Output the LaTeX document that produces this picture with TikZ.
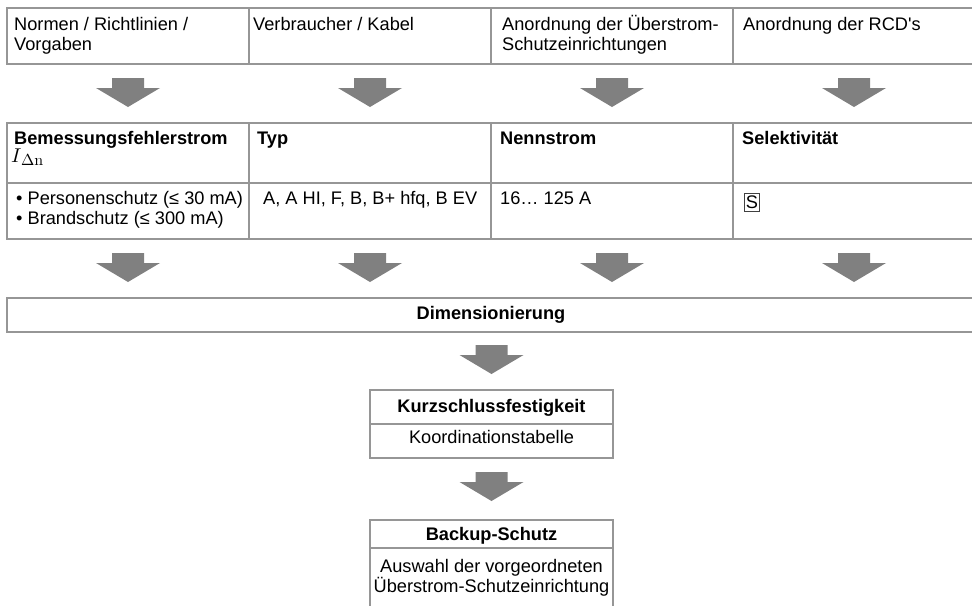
\documentclass[tikz,border=0pt]{standalone}
\usepackage{fontspec}
\newfontfamily\hv{Liberation Sans}
\usetikzlibrary{calc}
\definecolor{linegray}{RGB}{150,150,150}
\definecolor{arrowgray}{RGB}{128,128,128}
\tikzset{
  cell/.style={draw=linegray, line width=1.3pt, rectangle, anchor=north west, inner sep=0pt, outer sep=0pt},
  opencell/.style={rectangle, anchor=north west, inner sep=0pt, outer sep=0pt},
  edge/.style={draw=linegray, line width=1.3pt, line cap=butt},
  txt/.style={font=\hv\fontsize{18.2}{20}\selectfont, inner sep=0pt, anchor=base west},
  btxt/.style={font=\hv\bfseries\fontsize{18.2}{20}\selectfont, inner sep=0pt, anchor=base west},
  ctxt/.style={txt, anchor=base},
  cbtxt/.style={btxt, anchor=base},
  sbox/.style={draw=black!75, line width=0.6pt, inner xsep=1.5pt, inner ysep=2.4pt, font=\hv\fontsize{18.2}{20}\selectfont},
}
\newcommand\blockarr[1]{\fill[arrowgray] ($(#1)+(-16,0)$) -- ($(#1)+(16,0)$) -- ($(#1)+(16,10)$) -- ($(#1)+(32,10)$) -- ($(#1)+(0,29)$) -- ($(#1)+(-32,10)$) -- ($(#1)+(-16,10)$) -- cycle;}
\newcommand\topbottom[1]{\draw[edge] (#1.north west) -- (#1.north east); \draw[edge] (#1.south west) -- (#1.south east);}
\begin{document}
\begin{tikzpicture}[x=1pt,y=-1pt]
\useasboundingbox (0,0) rectangle (972,606);
% row A
\node[cell, minimum width=242pt, minimum height=56pt] (a1) at (7,8) {};
\node[cell, minimum width=242pt, minimum height=56pt] (a2) at (249,8) {};
\node[cell, minimum width=242pt, minimum height=56pt] (a3) at (491,8) {};
\node[opencell, minimum width=239pt, minimum height=56pt] (a4) at (733,8) {};
\topbottom{a4}
\node[txt] (ta1a) at (14,30) {Normen / Richtlinien /};
\node[txt] (ta1b) at (14,50) {Vorgaben};
\node[txt] (ta2) at (253,30) {Verbraucher / Kabel};
\node[txt] (ta3a) at (502,30) {Anordnung der Überstrom-};
\node[txt] (ta3b) at (502,50) {Schutzeinrichtungen};
\node[txt] (ta4) at (743,30) {Anordnung der RCD's};
% row B header
\node[cell, minimum width=242pt, minimum height=60pt] (b1) at (7,123) {};
\node[cell, minimum width=242pt, minimum height=60pt] (b2) at (249,123) {};
\node[cell, minimum width=242pt, minimum height=60pt] (b3) at (491,123) {};
\node[opencell, minimum width=239pt, minimum height=60pt] (b4) at (733,123) {};
\topbottom{b4}
\node[btxt] (tb1a) at (14,144) {Bemessungsfehlerstrom};
\node[inner sep=0pt, anchor=base west] (tb1b) at (11,162) {\scalebox{2}{$I$}\kern-0.5pt\raisebox{-3pt}{\scalebox{1.6}{$\Delta\mathrm{n}$}}};
\node[btxt] (tb2) at (257,144) {Typ};
\node[btxt] (tb3) at (500,144) {Nennstrom};
\node[btxt] (tb4) at (742,144) {Selektivität};
% row B values
\node[cell, minimum width=242pt, minimum height=56pt] (c1) at (7,183) {};
\node[cell, minimum width=242pt, minimum height=56pt] (c2) at (249,183) {};
\node[cell, minimum width=242pt, minimum height=56pt] (c3) at (491,183) {};
\node[opencell, minimum width=239pt, minimum height=56pt] (c4) at (733,183) {};
\topbottom{c4}
\node[txt] (tc1a) at (16,204) {• Personenschutz (≤ 30 mA)};
\node[txt] (tc1b) at (16,224) {• Brandschutz (≤ 300 mA)};
\node[txt] (tc2) at (263,204) {A, A HI, F, B, B+ hfq, B EV};
\node[txt] (tc3) at (500,204) {16… 125 A};
\node[sbox] (tc4) at (752,202) {S};
% Dimensionierung
\node[opencell, minimum width=965pt, minimum height=34pt] (d) at (7,298) {};
\draw[edge, line join=miter] (d.north east) -- (d.north west) -- (d.south west) -- (d.south east);
\node[cbtxt] (td) at (491,319) {Dimensionierung};
% Kurzschlussfestigkeit
\node[cell, minimum width=243pt, minimum height=34pt] (k1) at (370,390) {};
\node[cell, minimum width=243pt, minimum height=34pt] (k2) at (370,424) {};
\node[cbtxt] (tk1) at (491.5,412) {Kurzschlussfestigkeit};
\node[ctxt] (tk2) at (491.5,443) {Koordinationstabelle};
% Backup
\node[cell, minimum width=243pt, minimum height=28pt] (u1) at (370,520) {};
\node[opencell, minimum width=243pt, minimum height=58pt] (u2) at (370,548) {};
\draw[edge] (u2.north west) -- (u2.south west);
\draw[edge] (u2.north east) -- (u2.south east);
\node[cbtxt] (tu1) at (491.5,540) {Backup-Schutz};
\node[ctxt] (tu2a) at (491.5,572) {Auswahl der vorgeordneten};
\node[ctxt] (tu2b) at (491.5,592) {Überstrom-Schutzeinrichtung};
% arrows
\coordinate (p1) at ($(a1.south)+(0,14)$);
\coordinate (p2) at ($(a2.south)+(0,14)$);
\coordinate (p3) at ($(a3.south)+(0,14)$);
\coordinate (p4) at ($(a3.south)+(242,14)$);
\coordinate (q1) at ($(c1.south)+(0,14)$);
\coordinate (q2) at ($(c2.south)+(0,14)$);
\coordinate (q3) at ($(c3.south)+(0,14)$);
\coordinate (q4) at ($(c3.south)+(242,14)$);
\coordinate (r1) at ($(k1.north)+(0,-45)$);
\coordinate (r2) at ($(k2.south)+(0,14)$);
\blockarr{p1}\blockarr{p2}\blockarr{p3}\blockarr{p4}
\blockarr{q1}\blockarr{q2}\blockarr{q3}\blockarr{q4}
\blockarr{r1}\blockarr{r2}
\end{tikzpicture}
\end{document}
